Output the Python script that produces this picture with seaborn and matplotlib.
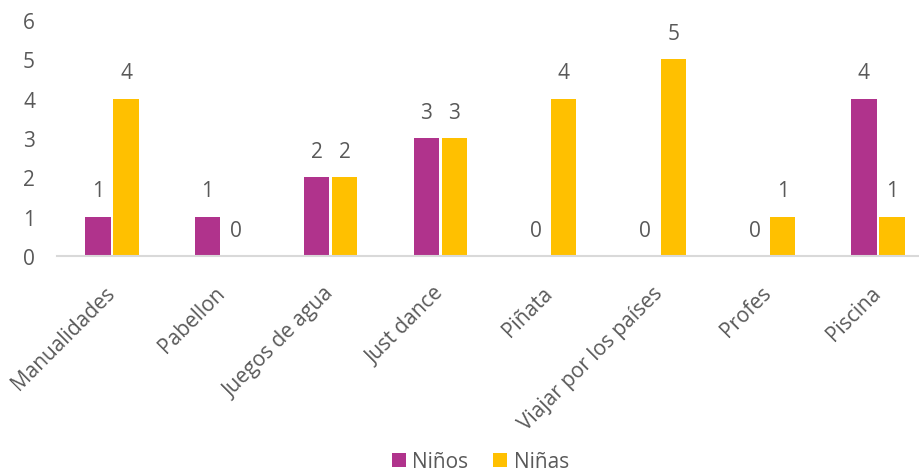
import matplotlib
matplotlib.use("Agg")
import matplotlib.pyplot as plt
import seaborn as sns
import pandas as pd

categories = ["Manualidades", "Pabellon", "Juegos de agua", "Just dance",
              "Piñata", "Viajar por los países", "Profes", "Piscina"]
ninos = [1, 1, 2, 3, 0, 0, 0, 4]
ninas = [4, 0, 2, 3, 4, 5, 1, 1]
series_names = ["Niños", "Niñas"]
colors = ["#B0338C", "#FFC000"]

df = pd.DataFrame({
    "cat": categories * 2,
    "val": ninos + ninas,
    "serie": [series_names[0]] * len(categories) + [series_names[1]] * len(categories),
})

sns.set_theme(style="white")
plt.rcParams['font.family'] = ['Open Sans', 'DejaVu Sans']
txt = "#595959"
fs = 15

fig = plt.figure(figsize=(9.2, 4.77), dpi=100)
ax = fig.add_axes([0.0623, 0.461, 0.9515, 0.495])
sns.barplot(data=df, x="cat", y="val", hue="serie", palette=colors,
            width=0.512, gap=0.105, ax=ax, legend=True, saturation=1, linewidth=0)

for cont in ax.containers:
    ax.bar_label(cont, labels=[f"{int(v)}" for v in cont.datavalues],
                 padding=11, fontsize=fs, color=txt)

ax.set_ylim(0, 6)
ax.set_yticks(range(0, 7))
ax.set_xlabel("")
ax.set_ylabel("")
for s in ["top", "right", "left"]:
    ax.spines[s].set_visible(False)
ax.spines["bottom"].set_color("#D9D9D9")
ax.spines["bottom"].set_linewidth(1.5)
ax.tick_params(axis="y", length=0, labelsize=fs, labelcolor=txt, pad=16)
ax.tick_params(axis="x", length=0, labelsize=fs, labelcolor=txt, pad=24)
plt.setp(ax.get_xticklabels(), rotation=45, ha="right", va="center",
         rotation_mode="anchor")

handles, labels = ax.get_legend_handles_labels()
ax.get_legend().remove()
fig.legend(handles, labels, loc="center", bbox_to_anchor=(0.522, 0.03),
           ncol=2, frameon=False, fontsize=fs, labelcolor=txt,
           handlelength=0.68, handleheight=0.68, handletextpad=0.3,
           columnspacing=1.2, borderpad=0)

fig.savefig("out.png", dpi=100)
